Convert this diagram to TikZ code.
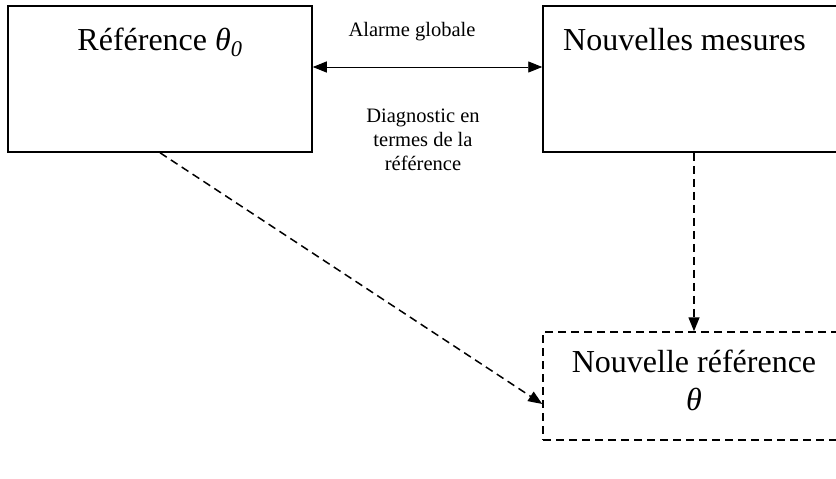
\documentclass[tikz,border=0pt]{standalone}
\usepackage{fontspec}
\setmainfont{Liberation Serif}
\usetikzlibrary{arrows.meta}
\begin{document}
\begin{tikzpicture}[x=1pt,y=-1pt,
  box/.style={draw,line width=1.5pt,minimum width=#1,inner sep=0pt},
  big/.style={font=\fontsize{32}{38}\selectfont,inner sep=0pt},
  small/.style={font=\fontsize{20.5}{24}\selectfont,inner sep=0pt,align=center},
  link/.style={line width=0.8pt,{Triangle[length=14pt,width=11pt]}-{Triangle[length=14pt,width=11pt]}},
  flow/.style={dashed,dash pattern=on 8pt off 5pt,line width=1.5pt,-{Triangle[length=14pt,width=11pt]}}]
  \useasboundingbox (0,0) rectangle (836,479);
  \clip (0,0) rectangle (836,479);
  \fill[white] (0,0) rectangle (836,479);

  % boxes
  \node[box=304pt,minimum height=146pt] (ref) at (160,79) {};
  \node[box=307pt,minimum height=146pt] (new) at (696.5,79) {};
  \node[box=302pt,minimum height=108pt,dashed,dash pattern=on 8pt off 5pt] (nref) at (694,386) {};

  % box titles
  \node[big,anchor=base] (reft) at (160,50) {Référence \textit{θ}\textsubscript{\textit{0}}};
  \node[big,anchor=base west] (newt) at (563,50) {Nouvelles mesures};
  \node[big,anchor=base] (nreft) at (694,372) {Nouvelle référence};
  \node[big,anchor=base] (theta) at (694,410) {\textit{θ}};

  % link labels (base anchor = last line)
  \node[small,anchor=base] (alarm) at (412,36) {Alarme globale};
  \node[small,anchor=base] (diag) at (423,170) {Diagnostic en\\termes de la\\référence};

  % connectors
  \draw[link] ([yshift=12pt]ref.east) -- ([yshift=12pt]new.west);
  \draw[flow] (ref.south) -- ([yshift=-18pt]nref.west);
  \draw[flow] (nref.north |- new.south) -- (nref.north);
\end{tikzpicture}
\end{document}
